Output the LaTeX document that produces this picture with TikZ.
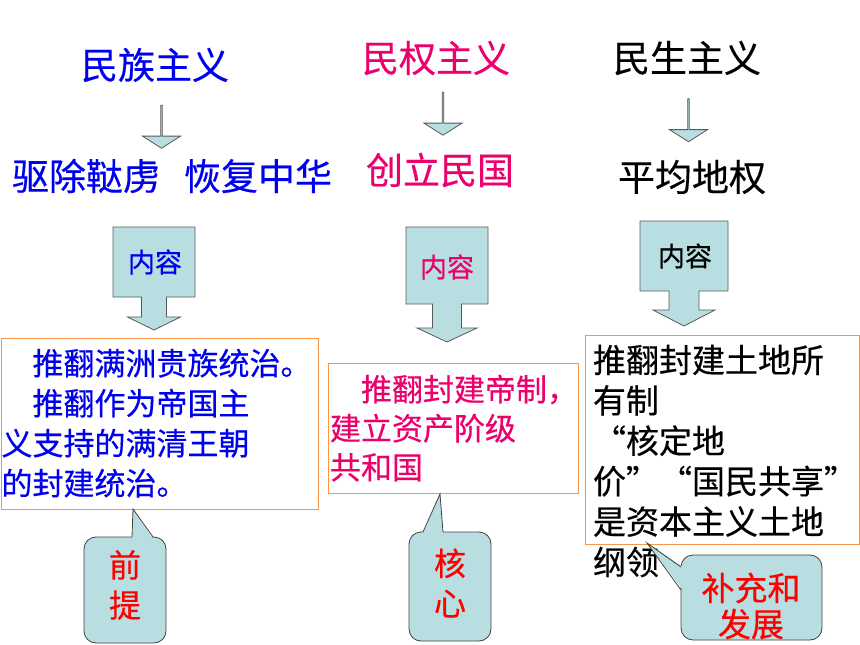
\documentclass[tikz,border=0pt]{standalone}
\usepackage{fontspec}
\setmainfont{Noto Sans CJK SC}[FakeBold=0.4]
\usetikzlibrary{shapes.arrows}
\definecolor{lightcyan}{RGB}{185,222,225}
\definecolor{rosered}{RGB}{236,0,108}
\definecolor{boxorange}{RGB}{247,150,70}
\definecolor{titleblue}{RGB}{0,0,240}

\begin{document}
\begin{tikzpicture}[x=1pt,y=-1pt]
	\tikzstyle{every node}=[inner sep=0pt, outer sep=0pt]
	\tikzstyle{title}=[font=\fontsize{37}{44}\selectfont]
	\tikzstyle{down}=[single arrow, draw=black!65, fill=lightcyan, line width=0.8pt, rotate=-90, minimum height=43pt, minimum width=38pt, single arrow head extend=9.5pt, single arrow tip angle=115]
	\tikzstyle{tag}=[draw=black!65, fill=lightcyan, line width=0.8pt]
	\tikzstyle{tagtext}=[font=\fontsize{27}{32}\selectfont]
	\tikzstyle{textbox}=[draw=boxorange, fill=white, line width=1pt, anchor=north west]
	\tikzstyle{body}=[anchor=base west, align=left, text width=330pt]
	\tikzstyle{bubble}=[draw=black!75, fill=lightcyan, line width=0.8pt, rounded corners=12pt, anchor=north west]
	\tikzstyle{bubbletext}=[text=red, align=center, font=\fontsize{32}{40}\selectfont]
	\useasboundingbox (0,0) rectangle (860,645);

	\node (zu) [title, text=titleblue] at (155,65) {民族主义};
	\node (quan) [title, text=rosered] at (436,58) {民权主义};
	\node (sheng) [title] at (687,58) {民生主义};
	\node (zu2) [title, text=titleblue] at (172,176) {驱除鞑虏\hspace{0.65em}恢复中华};
	\node (quan2) [title, text=rosered] at (440,170) {创立民国};
	\node (sheng2) [title] at (692,177) {平均地权};

	\node (a1) [down] at (161.5,126.5) {};
	\node (a2) [down] at (443,113.5) {};
	\node (a3) [down] at (688.5,120) {};

	\draw[tag, shift={(154,227)}] (-41,0) -- (41,0) -- (41,70) -- (12.5,70) -- (12.5,90) -- (26.5,90) -- (0,103) -- (-26.5,90) -- (-12.5,90) -- (-12.5,70) -- (-41,70) -- cycle;
	\draw[tag, shift={(447,227)}] (-41,0) -- (41,0) -- (41,77) -- (14.5,77) -- (14.5,101) -- (30,101) -- (0,115) -- (-30,101) -- (-14.5,101) -- (-14.5,77) -- (-41,77) -- cycle;
	\draw[tag, shift={(684,221)}] (-44,0) -- (44,0) -- (44,70) -- (15,70) -- (15,89) -- (31,89) -- (0,105) -- (-31,89) -- (-15,89) -- (-15,70) -- (-44,70) -- cycle;
	\node (c1) [tagtext, text=titleblue] at (155,262) {内容};
	\node (c2) [tagtext, text=rosered] at (447,267) {内容};
	\node (c3) [tagtext] at (685,256) {内容};

	\node (box1) [textbox, minimum width=317pt, minimum height=171pt] at (1,338) {};
	\node (box2) [textbox, minimum width=250pt, minimum height=130pt] at (328,363) {};
	\node (box3) [textbox, minimum width=274pt, minimum height=209pt] at (585,335) {};
	\node (b1) [body, text=titleblue, font=\fontsize{31}{40}\selectfont] at (1.5,375) {　推翻满洲贵族统治。\\　推翻作为帝国主\\义支持的满清王朝\\的封建统治。};
	\node (b2) [body, text=rosered, font=\fontsize{31}{39}\selectfont] at (330,401) {　推翻封建帝制，\\建立资产阶级\\共和国};
	\node (b3) [body, font=\fontsize{33}{40.4}\selectfont] at (593,372.5) {推翻封建土地所\\有制\\“核定地\\价”“国民共享”\\是资本主义土地\\纲领};

	\node (bub1) [bubble, minimum width=82pt, minimum height=106pt] at (84,537) {};
	\node (bub2) [bubble, minimum width=82pt, minimum height=109pt] at (409,532) {};
	\node (bub3) [bubble, minimum width=141pt, minimum height=85pt] at (681,555) {};
	\coordinate (p1) at (133,509);
	\coordinate (p2) at (440,494);
	\coordinate (p3) at (647,543);
	\fill[lightcyan] (132,539) -- (p1) -- (153,539) -- cycle;
	\fill[lightcyan] (423,534) -- (p2) -- (443,534) -- cycle;
	\fill[lightcyan] (683,567) -- (p3) -- (683,590) -- cycle;
	\draw[black!75, line width=0.8pt] (132,537) -- (p1) -- (153,537);
	\draw[black!75, line width=0.8pt] (423,532) -- (p2) -- (443,532);
	\draw[black!75, line width=0.8pt] (681,567) -- (p3) -- (681,590);
	\node (t1) [bubbletext] at (125,585) {前\\提};
	\node (t2) [bubbletext] at (450,583) {核\\心};
	\node (t3) [bubbletext, font=\fontsize{33}{36}\selectfont] at (751,606) {补充和\\发展};
\end{tikzpicture}
\end{document}
